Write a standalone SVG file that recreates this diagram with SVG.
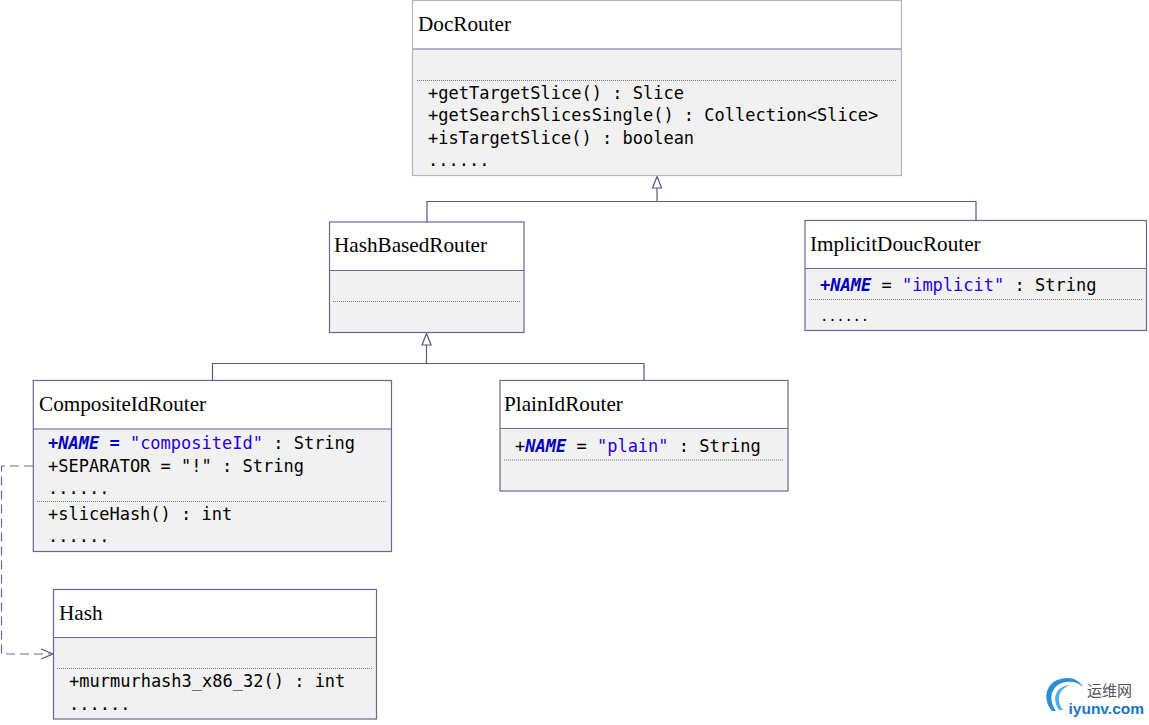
<svg xmlns="http://www.w3.org/2000/svg" width="1149" height="725" viewBox="0 0 1149 725">
<style>
.head{fill:#fff;stroke:none}
.body{fill:#f1f1f1;stroke:none}
.box{fill:none;stroke:#6d6594;stroke-width:1.2}
.grey{stroke:#b5b5b8}
.sep{stroke:#6d6594;stroke-width:1}
.dot{stroke:#77758a;stroke-width:1;stroke-dasharray:1 1;fill:none}
.t{font-family:"Liberation Serif",serif;font-size:21.200px;fill:#000}
.m{font-family:"DejaVu Sans Mono",monospace;font-size:17px;fill:#000}
.blue{fill:#2a00e0}
.nm{fill:#0000c0;font-weight:bold;font-style:italic}
.c{fill:none;stroke:#5d5780;stroke-width:1.2}
.hollow{fill:#fff;stroke:#5d5780;stroke-width:1.2}
.dash{fill:none;stroke:#6f6a8c;stroke-width:1.2;stroke-dasharray:9 5}
</style>
<g id="connectors">
<path class="c" d="M427 222V201.500H976V220"/>
<path class="c" d="M657 201.500V187"/>
<path class="hollow" d="M657 176.500L652.500 188H661.500Z"/>
<path class="c" d="M212.500 380V363.500H644V380"/>
<path class="c" d="M426.500 363.500V344"/>
<path class="hollow" d="M426.500 333.500L422 345H431Z"/>
<path class="dash" d="M33 466H1.500V654H52"/>
<path class="c" d="M41 649L53 654L41 659"/>
</g>
<g id="DocRouter">
<rect class="head" x="413" y="1" width="488" height="48"/>
<rect class="body" x="413" y="49" width="488" height="126"/>
<rect class="box grey" x="412.500" y="0.500" width="489" height="175"/>
<line class="sep grey" x1="413" y1="49" x2="901" y2="49"/>
<line class="dot grey" x1="417" y1="80.500" x2="897" y2="80.500"/>
<text class="t" x="418" y="31">DocRouter</text>
<text class="m" x="428" y="99">+getTargetSlice() : Slice</text>
<text class="m" x="428" y="121">+getSearchSlicesSingle() : Collection&lt;Slice&gt;</text>
<text class="m" x="428" y="144">+isTargetSlice() : boolean</text>
<text class="m" x="428" y="165.500">......</text>
</g>
<g id="HashBasedRouter">
<rect class="head" x="330" y="222" width="194" height="48"/>
<rect class="body" x="330" y="270" width="194" height="62"/>
<rect class="box" x="329.500" y="222" width="194.500" height="110.500"/>
<line class="sep" x1="330" y1="270.500" x2="524" y2="270.500"/>
<line class="dot" x1="333" y1="301.500" x2="520" y2="301.500"/>
<text class="t" x="334" y="252">HashBasedRouter</text>
</g>
<g id="ImplicitDoucRouter">
<rect class="head" x="805" y="220" width="341" height="48"/>
<rect class="body" x="805" y="268" width="341" height="62"/>
<rect class="box" x="805" y="220.500" width="341.500" height="110"/>
<line class="sep" x1="805" y1="268.500" x2="1146" y2="268.500"/>
<line class="dot" x1="809" y1="299.500" x2="1142" y2="299.500"/>
<text class="t" x="810" y="251">ImplicitDoucRouter</text>
<text class="m" x="820" y="291"><tspan class="nm">+NAME</tspan> = <tspan class="blue">"implicit"</tspan> : String</text>
<text class="m" x="820" y="320.500" style="font-size:14px;letter-spacing:-0.300px">......</text>
</g>
<g id="CompositeIdRouter">
<rect class="head" x="33" y="380" width="358" height="48"/>
<rect class="body" x="33" y="428" width="358" height="124"/>
<rect class="box" x="33.300" y="380.500" width="358.200" height="171"/>
<line class="sep" x1="33" y1="429" x2="391" y2="429"/>
<line class="dot" x1="37" y1="501.500" x2="387" y2="501.500"/>
<text class="t" x="39" y="411">CompositeIdRouter</text>
<text class="m" x="48" y="449"><tspan class="nm">+NAME = </tspan><tspan class="blue">"compositeId"</tspan> : String</text>
<text class="m" x="48" y="472">+SEPARATOR = "!" : String</text>
<text class="m" x="48" y="494">......</text>
<text class="m" x="48" y="520">+sliceHash() : int</text>
<text class="m" x="48" y="542">......</text>
</g>
<g id="PlainIdRouter">
<rect class="head" x="500" y="380" width="288" height="48"/>
<rect class="body" x="500" y="428" width="288" height="63"/>
<rect class="box" x="500" y="380.500" width="288" height="110.500"/>
<line class="sep" x1="500" y1="428.500" x2="788" y2="428.500"/>
<line class="dot" x1="504" y1="460" x2="784" y2="460"/>
<text class="t" x="504" y="411">PlainIdRouter</text>
<text class="m" x="515" y="452">+<tspan class="nm">NAME</tspan> = <tspan class="blue">"plain"</tspan> : String</text>
</g>
<g id="Hash">
<rect class="head" x="53" y="589" width="324" height="48"/>
<rect class="body" x="53" y="637" width="324" height="82"/>
<rect class="box" x="53.500" y="589.500" width="323" height="129.500"/>
<line class="sep" x1="53" y1="637.500" x2="377" y2="637.500"/>
<line class="dot" x1="57" y1="668.500" x2="373" y2="668.500"/>
<text class="t" x="59" y="620">Hash</text>
<text class="m" x="69" y="687">+murmurhash3_x86_32() : int</text>
<text class="m" x="69" y="709.500">......</text>
</g>
<path d="M1052 711C1041 698 1046 678 1068 678C1075 678 1080 682 1083 687C1078 682 1072 681 1066 682C1052 684 1047 698 1056 711Z" fill="#2a8fd8"/>
<path d="M1059 710C1051 698 1056 686 1070 685C1058 690 1056 700 1063 710Z" fill="#56aee6"/>
<text x="1087" y="696" style="font-family:'Noto Sans CJK SC',sans-serif;font-size:15px;fill:#555">运维网</text>
<text x="1068.500" y="713.500" style="font-family:'Liberation Sans',sans-serif;font-size:15.500px;font-weight:bold;fill:#1577c4">iyunv.com</text>
</svg>
